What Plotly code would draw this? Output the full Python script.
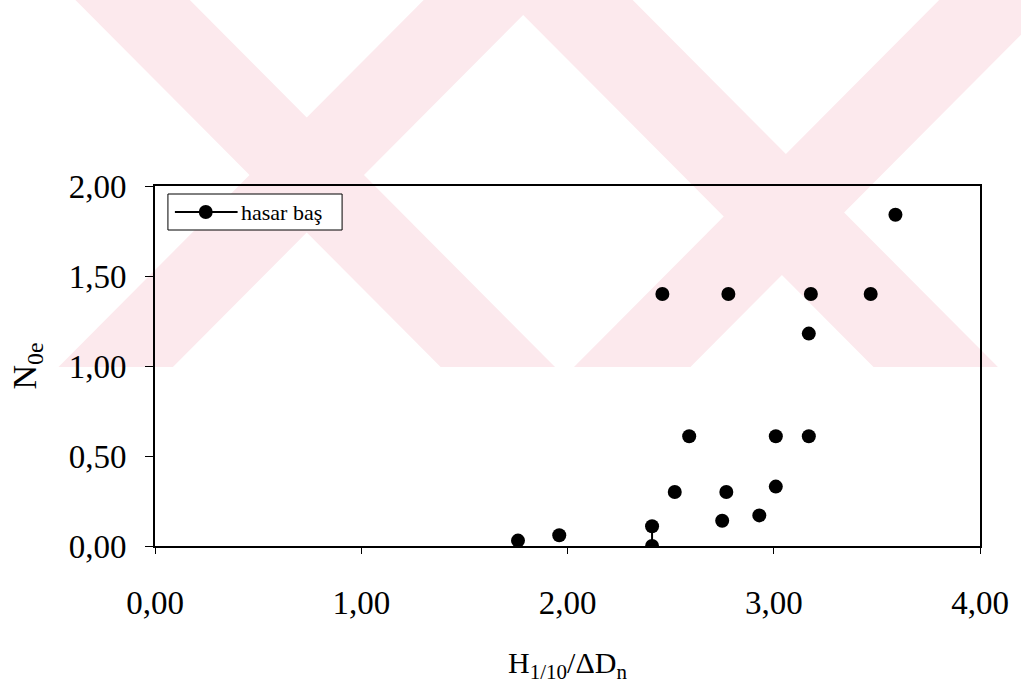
import plotly.graph_objects as go

# ---- data ----
# None separates points; the pair at 2.41 is joined by a line segment
h_ratio = [1.76, None, 1.96, None, 2.41, 2.41, None, 2.46, None, 2.52, None,
           2.59, None, 2.75, None, 2.77, None, 2.78, None, 2.93, None, 3.01,
           None, 3.01, None, 3.17, None, 3.17, None, 3.18, None, 3.47, None, 3.59]
n0e = [0.03, None, 0.06, None, 0.11, 0.00, None, 1.40, None, 0.30, None,
       0.61, None, 0.14, None, 0.30, None, 1.40, None, 0.17, None, 0.33,
       None, 0.61, None, 0.61, None, 1.18, None, 1.40, None, 1.40, None, 1.84]
series_name = "hasar baş"
x_ticks = [0, 1, 2, 3, 4]
x_tick_text = ["0,00", "1,00", "2,00", "3,00", "4,00"]
y_ticks = [0, 0.5, 1.0, 1.5, 2.0]
y_tick_text = ["0,00", "0,50", "1,00", "1,50", "2,00"]

FONT = "Liberation Serif"
W, H = 1021, 692
L, R, T, B = 155, 37, 186, 146
PW, PH = W - L - R, H - T - B


def px2paper(px, py):
    return (px - L) / PW, (T + PH - py) / PH


fig = go.Figure()
fig.add_trace(go.Scatter(
    x=h_ratio, y=n0e, name=series_name, mode="lines+markers",
    connectgaps=False, showlegend=False,
    line=dict(color="black", width=2),
    marker=dict(color="black", size=14),
))

# ---- faint background watermark (pale pink diagonal bands) ----
def band(a, b, kind, ybot=367):
    if kind == "back":   # "\" band, x - y in [a, b]
        pts = [(a, 0), (b, 0), (b + ybot, ybot), (a + ybot, ybot)]
    else:                # "/" band, x + y in [a, b]
        pts = [(a, 0), (b, 0), (b - ybot, ybot), (a - ybot, ybot)]
    conv = [px2paper(x, y) for x, y in pts]
    return "M " + " L ".join(f"{x:.4f},{y:.4f}" for x, y in conv) + " Z"

shapes = []
for a, b, kind in [(75, 190, "back"), (425, 540, "fwd"),
                   (510, 635, "back"), (943, 1060, "fwd")]:
    shapes.append(dict(type="path", path=band(a, b, kind), xref="paper", yref="paper",
                       fillcolor="#fce9ed", line=dict(width=0), layer="below"))

# ---- legend box drawn like the original (long line with dot) ----
bx0, by0 = px2paper(168, 194)
bx1, by1 = px2paper(343, 230)
shapes.append(dict(type="rect", xref="paper", yref="paper", x0=bx0, y0=by0, x1=bx1, y1=by1,
                   fillcolor="white", line=dict(color="black", width=1), layer="above"))
lx0, ly = px2paper(175, 212)
lx1, _ = px2paper(238, 212)
shapes.append(dict(type="line", xref="paper", yref="paper", x0=lx0, y0=ly, x1=lx1, y1=ly,
                   line=dict(color="black", width=2), layer="above"))
cx, cy = px2paper(206, 212)
rx, ry = 7 / PW, 7 / PH
shapes.append(dict(type="circle", xref="paper", yref="paper", x0=cx - rx, y0=cy - ry,
                   x1=cx + rx, y1=cy + ry, fillcolor="black", line=dict(color="black", width=0),
                   layer="above"))
tx, _ = px2paper(239, 212)
annotations = [dict(text=series_name, xref="paper", yref="paper", x=tx, y=ly,
                    xanchor="left", yanchor="middle", showarrow=False,
                    font=dict(family=FONT, size=22, color="black"))]

axis_common = dict(
    showgrid=False, zeroline=False, showline=True, linecolor="black",
    linewidth=2, mirror=True, ticks="outside", tickcolor="black",
    tickfont=dict(family=FONT, size=33, color="black"),
)

fig.update_layout(
    width=W, height=H, autosize=False,
    margin=dict(l=L, r=R, t=T, b=B, pad=0),
    paper_bgcolor="white", plot_bgcolor="rgba(0,0,0,0)",
    font=dict(family=FONT, color="black"),
    shapes=shapes, annotations=annotations,
    showlegend=False,
    xaxis=dict(
        range=[0, 4], tickvals=x_ticks, ticktext=x_tick_text, ticklen=6,
        ticklabelstandoff=20,
        title=dict(text="H<sub>1/10</sub>/ΔD<sub>n</sub>",
                   font=dict(family=FONT, size=30, color="black"), standoff=32),
        **axis_common,
    ),
    yaxis=dict(
        range=[0, 2], tickvals=y_ticks, ticktext=y_tick_text, ticklen=8,
        ticklabelstandoff=12,
        title=dict(text="N<sub>0e</sub>",
                   font=dict(family=FONT, size=34, color="black"), standoff=22),
        **axis_common,
    ),
)

fig.write_html("out.html", config={"displayModeBar": False},
               post_script="document.body.style.margin='0';")
